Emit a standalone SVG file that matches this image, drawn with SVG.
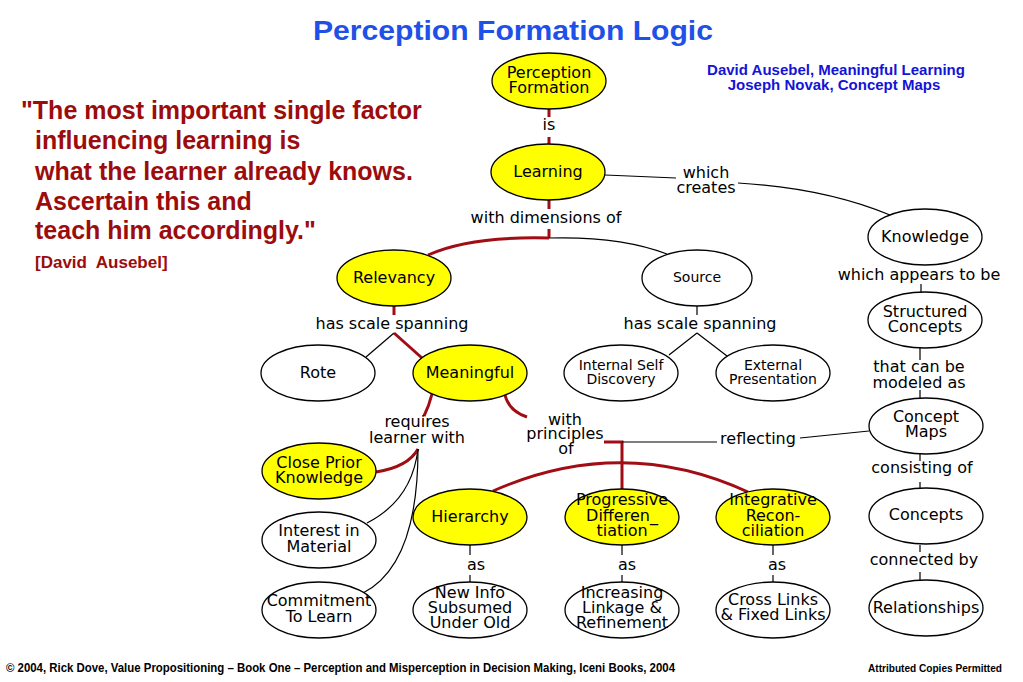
<svg xmlns="http://www.w3.org/2000/svg" width="1023" height="682" viewBox="0 0 1023 682">
<style>
.bg{fill:#ffffff}
.y{fill:#ffff00;stroke:#000;stroke-width:1.3}
.w{fill:#ffffff;stroke:#000;stroke-width:1.3}
.t{font-family:"DejaVu Sans",sans-serif;font-size:16px;text-anchor:middle;fill:#000}
.s{font-size:14px}
.k{fill:none;stroke:#000;stroke-width:1.2}
.r{fill:none;stroke:#a00d14;stroke-width:3}
.q{font-family:"Liberation Sans",Arial,sans-serif;font-weight:bold;font-size:25px;fill:#9c0c0c}
.qs{font-size:17px}
.a{font-family:"Liberation Sans",Arial,sans-serif;font-weight:bold;font-size:15px;fill:#1414d6;text-anchor:middle}
.f{font-family:"Liberation Sans",Arial,sans-serif;font-weight:bold;fill:#000}
</style>
<rect class="bg" x="0" y="0" width="1023" height="682"/>

<text x="513" y="40" font-family="Liberation Sans, Arial, sans-serif" font-weight="bold" font-size="28" fill="#1f50e8" text-anchor="middle" textLength="400" lengthAdjust="spacingAndGlyphs">Perception Formation Logic</text>

<g id="authors">
<text class="a" x="836" y="75">David Ausebel, Meaningful Learning</text>
<text class="a" x="834" y="90">Joseph Novak, Concept Maps</text>
</g>

<g id="quote">
<text class="q" x="21" y="119">"The most important single factor</text>
<text class="q" x="35" y="149">influencing learning is</text>
<text class="q" x="35" y="180">what the learner already knows.</text>
<text class="q" x="35" y="210">Ascertain this and</text>
<text class="q" x="35" y="239">teach him accordingly."</text>
<text class="q qs" x="35" y="268">[David&#160; Ausebel]</text>
</g>

<g id="connectors">
<path class="r" d="M549,109 V117 M549,137 V144"/>
<path class="r" d="M549,200 V209 M549,229 V238"/>
<path class="r" d="M549,238 Q470,236 428,255"/>
<path class="k" d="M549,238 Q620,236 667,254"/>
<path class="k" d="M605,175 L676,178"/>
<path class="k" d="M738,183 Q825,188 890,215"/>
<path class="r" d="M394,306 V315"/>
<path class="k" d="M394,333 L366,357"/>
<path class="r" d="M394,333 L422,358"/>
<path class="k" d="M697,306 V315"/>
<path class="k" d="M697,333 L669,355 M697,333 L727,356"/>
<path class="r" d="M432,394 Q429,406 424,416"/>
<path class="r" d="M418,449 Q408,467 376,472"/>
<path class="k" d="M418,449 Q412,500 367,523"/>
<path class="k" d="M418,449 Q418,565 363,593"/>
<path class="r" d="M505,395 Q509,411 527,417"/>
<path class="r" d="M604,442 H622 V490"/>
<path class="r" d="M493,491 Q622,434 748,492"/>
<path class="k" d="M622,442 H717"/>
<path class="k" d="M800,438 L869,431"/>
<path class="k" d="M470,545 V555 M470,575 V582"/>
<path class="k" d="M622,545 V555 M622,575 V582"/>
<path class="k" d="M773,545 V555 M773,575 V582"/>
<path class="k" d="M921,284 V292"/>
<path class="k" d="M920,348 V360 M920,390 V398"/>
<path class="k" d="M920,454 V461 M920,482 V488"/>
<path class="k" d="M920,545 V552 M920,572 V580"/>
</g>

<g id="link-labels">
<text class="t" x="549" y="130">is</text>
<text class="t" x="706" y="178">which</text>
<text class="t" x="706" y="193">creates</text>
<text class="t" x="546" y="223">with dimensions of</text>
<text class="t" x="392" y="329">has scale spanning</text>
<text class="t" x="700" y="329">has scale spanning</text>
<text class="t" x="417" y="427">requires</text>
<text class="t" x="417" y="443">learner with</text>
<text class="t" x="565" y="425">with</text>
<text class="t" x="565" y="439">principles</text>
<text class="t" x="566" y="454">of</text>
<text class="t" x="758" y="444">reflecting</text>
<text class="t" x="476" y="570">as</text>
<text class="t" x="627" y="570">as</text>
<text class="t" x="777" y="570">as</text>
<text class="t" x="919" y="280">which appears to be</text>
<text class="t" x="919" y="372">that can be</text>
<text class="t" x="919" y="388">modeled as</text>
<text class="t" x="922" y="473">consisting of</text>
<text class="t" x="924" y="565">connected by</text>
</g>

<g id="perception-formation"><ellipse class="y" cx="549" cy="81" rx="57" ry="28"/><text class="t" x="549" y="78">Perception</text><text class="t" x="549" y="93">Formation</text></g>
<g id="learning"><ellipse class="y" cx="548" cy="172" rx="57" ry="28"/><text class="t" x="548" y="177">Learning</text></g>
<g id="relevancy"><ellipse class="y" cx="394" cy="278" rx="57" ry="28"/><text class="t" x="394" y="283">Relevancy</text></g>
<g id="source"><ellipse class="w" cx="697" cy="278" rx="55" ry="28"/><text class="t s" x="697" y="282">Source</text></g>
<g id="knowledge"><ellipse class="w" cx="925" cy="237" rx="57" ry="28"/><text class="t" x="925" y="242">Knowledge</text></g>
<g id="structured-concepts"><ellipse class="w" cx="925" cy="320" rx="57" ry="28"/><text class="t" x="925" y="317">Structured</text><text class="t" x="925" y="332">Concepts</text></g>
<g id="concept-maps"><ellipse class="w" cx="926" cy="426" rx="57" ry="28"/><text class="t" x="926" y="422">Concept</text><text class="t" x="926" y="437">Maps</text></g>
<g id="concepts"><ellipse class="w" cx="926" cy="516" rx="57" ry="28"/><text class="t" x="926" y="520">Concepts</text></g>
<g id="relationships"><ellipse class="w" cx="926" cy="608" rx="57" ry="28"/><text class="t" x="926" y="613">Relationships</text></g>
<g id="rote"><ellipse class="w" cx="318" cy="373" rx="57" ry="28"/><text class="t" x="318" y="378">Rote</text></g>
<g id="meaningful"><ellipse class="y" cx="470" cy="373" rx="57" ry="28"/><text class="t" x="470" y="378">Meaningful</text></g>
<g id="internal-self-discovery"><ellipse class="w" cx="621" cy="373" rx="57" ry="28"/><text class="t s" x="621" y="370">Internal Self</text><text class="t s" x="621" y="384">Discovery</text></g>
<g id="external-presentation"><ellipse class="w" cx="773" cy="373" rx="57" ry="28"/><text class="t s" x="773" y="370">External</text><text class="t s" x="773" y="384">Presentation</text></g>
<g id="close-prior-knowledge"><ellipse class="y" cx="319" cy="471" rx="57" ry="28"/><text class="t" x="319" y="468">Close Prior</text><text class="t" x="319" y="483">Knowledge</text></g>
<g id="interest-in-material"><ellipse class="w" cx="319" cy="540" rx="57" ry="28"/><text class="t" x="319" y="536">Interest in</text><text class="t" x="319" y="552">Material</text></g>
<g id="commitment-to-learn"><ellipse class="w" cx="319" cy="610" rx="57" ry="28"/><text class="t" x="319" y="606">Commitment</text><text class="t" x="319" y="622">To Learn</text></g>
<g id="hierarchy"><ellipse class="y" cx="470" cy="517" rx="57" ry="28"/><text class="t" x="470" y="522">Hierarchy</text></g>
<g id="progressive-differentiation"><ellipse class="y" cx="622" cy="517" rx="57" ry="28"/><text class="t" x="622" y="505">Progressive</text><text class="t" x="622" y="521">Differen_</text><text class="t" x="622" y="536">tiation</text></g>
<g id="integrative-reconciliation"><ellipse class="y" cx="773" cy="517" rx="57" ry="28"/><text class="t" x="773" y="505">Integrative</text><text class="t" x="773" y="521">Recon-</text><text class="t" x="773" y="536">ciliation</text></g>
<g id="new-info"><ellipse class="w" cx="470" cy="610" rx="57" ry="28"/><text class="t" x="470" y="598">New Info</text><text class="t" x="470" y="613">Subsumed</text><text class="t" x="470" y="628">Under Old</text></g>
<g id="increasing-linkage"><ellipse class="w" cx="622" cy="610" rx="57" ry="28"/><text class="t" x="622" y="598">Increasing</text><text class="t" x="622" y="613">Linkage &amp;</text><text class="t" x="622" y="628">Refinement</text></g>
<g id="cross-links"><ellipse class="w" cx="773" cy="610" rx="57" ry="28"/><text class="t" x="773" y="605">Cross Links</text><text class="t" x="773" y="620">&amp; Fixed Links</text></g>

<g id="footer">
<text class="f" x="6" y="672" font-size="12" textLength="669" lengthAdjust="spacingAndGlyphs">© 2004, Rick Dove, Value Propositioning – Book One – Perception and Misperception in Decision Making, Iceni Books, 2004</text>
<text class="f" x="868" y="672" font-size="11" textLength="134" lengthAdjust="spacingAndGlyphs">Attributed Copies Permitted</text>
</g>
</svg>
